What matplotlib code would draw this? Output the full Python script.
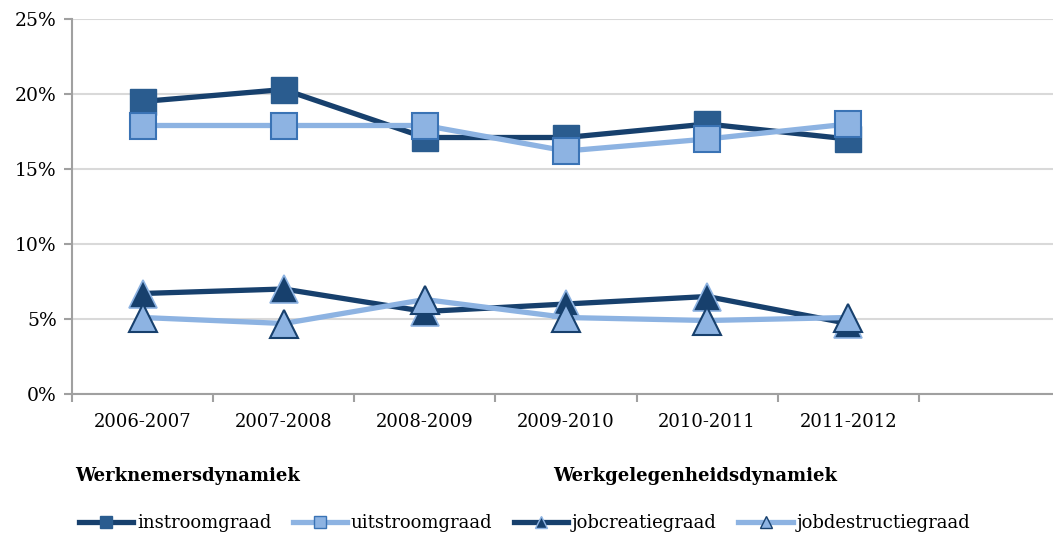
import matplotlib
matplotlib.use('Agg')
import matplotlib.pyplot as plt
from matplotlib.lines import Line2D
from matplotlib.ticker import FuncFormatter

plt.rcParams['font.family'] = ['DejaVu Serif']

periods = ['2006-2007', '2007-2008', '2008-2009', '2009-2010', '2010-2011', '2011-2012']
instroom = [19.5, 20.3, 17.1, 17.1, 18.0, 17.0]
uitstroom = [17.9, 17.9, 17.9, 16.2, 17.0, 18.0]
jobcreatie = [6.7, 7.0, 5.5, 6.0, 6.5, 4.7]
jobdestructie = [5.1, 4.7, 6.3, 5.1, 4.9, 5.1]

dark = '#17406d'
dark_mk = '#2a5c8f'
light = '#8db3e2'
light_edge = '#3a73b5'

fig = plt.figure(figsize=(10.53, 5.39), dpi=100)
ax = fig.add_axes([72 / 1053, 1 - 394 / 539, 988 / 1053, 375 / 539])

x = list(range(len(periods)))
ax.plot(x, instroom, color=dark, lw=3.8, marker='s', ms=19, mfc=dark_mk, mec=dark_mk, zorder=3)
ax.plot(x, uitstroom, color=light, lw=3.8, marker='s', ms=19, mfc=light, mec=light_edge, mew=1.5, zorder=4)
ax.plot(x, jobcreatie, color=dark, lw=3.8, marker='^', ms=20, mfc=dark, mec=light, mew=1.2, zorder=3)
ax.plot(x, jobdestructie, color=light, lw=3.8, marker='^', ms=20, mfc=light, mec=dark, mew=1.5, zorder=4)

ax.set_xlim(-0.5, 6.5)
ax.set_ylim(0, 25)
ax.set_yticks([0, 5, 10, 15, 20, 25])
ax.yaxis.set_major_formatter(FuncFormatter(lambda v, p: '%d%%' % v))
ax.set_xticks([i - 0.5 for i in range(7)])
ax.set_xticklabels([])
ax.set_xticks(x, minor=True)
ax.set_xticklabels(periods, minor=True)
ax.tick_params(axis='x', which='minor', length=0, pad=14, labelsize=13)
ax.tick_params(axis='x', which='major', length=6, color='#a0a0a0', width=1.5)
ax.tick_params(axis='y', length=6, color='#a0a0a0', width=1.5, labelsize=13.5, pad=5)
ax.grid(axis='y', color='#d9d9d9', lw=1.5)
ax.set_axisbelow(True)
for s in ['top', 'right']:
    ax.spines[s].set_visible(False)
for s in ['left', 'bottom']:
    ax.spines[s].set_color('#a0a0a0')
    ax.spines[s].set_linewidth(1.5)

fig.text(75 / 1053, 1 - 476 / 539, 'Werknemersdynamiek', fontsize=13, fontweight='bold', va='center')
fig.text(553 / 1053, 1 - 476 / 539, 'Werkgelegenheidsdynamiek', fontsize=13, fontweight='bold', va='center')

handles = [
    Line2D([], [], color=dark, lw=3.8, marker='s', ms=9, mfc=dark_mk, mec=dark_mk),
    Line2D([], [], color=light, lw=3.8, marker='s', ms=9, mfc=light, mec=light_edge),
    Line2D([], [], color=dark, lw=3.8, marker='^', ms=9, mfc=dark, mec=light),
    Line2D([], [], color=light, lw=3.8, marker='^', ms=9, mfc=light, mec=dark),
]
labels = ['instroomgraad', 'uitstroomgraad', 'jobcreatiegraad', 'jobdestructiegraad']
fig.legend(handles, labels, loc='center left', bbox_to_anchor=(72 / 1053, 1 - 523 / 539),
           ncol=4, frameon=False, fontsize=13, handlelength=3.0, handletextpad=0.2,
           columnspacing=1.2, borderaxespad=0)

fig.savefig('out.png', dpi=100)
